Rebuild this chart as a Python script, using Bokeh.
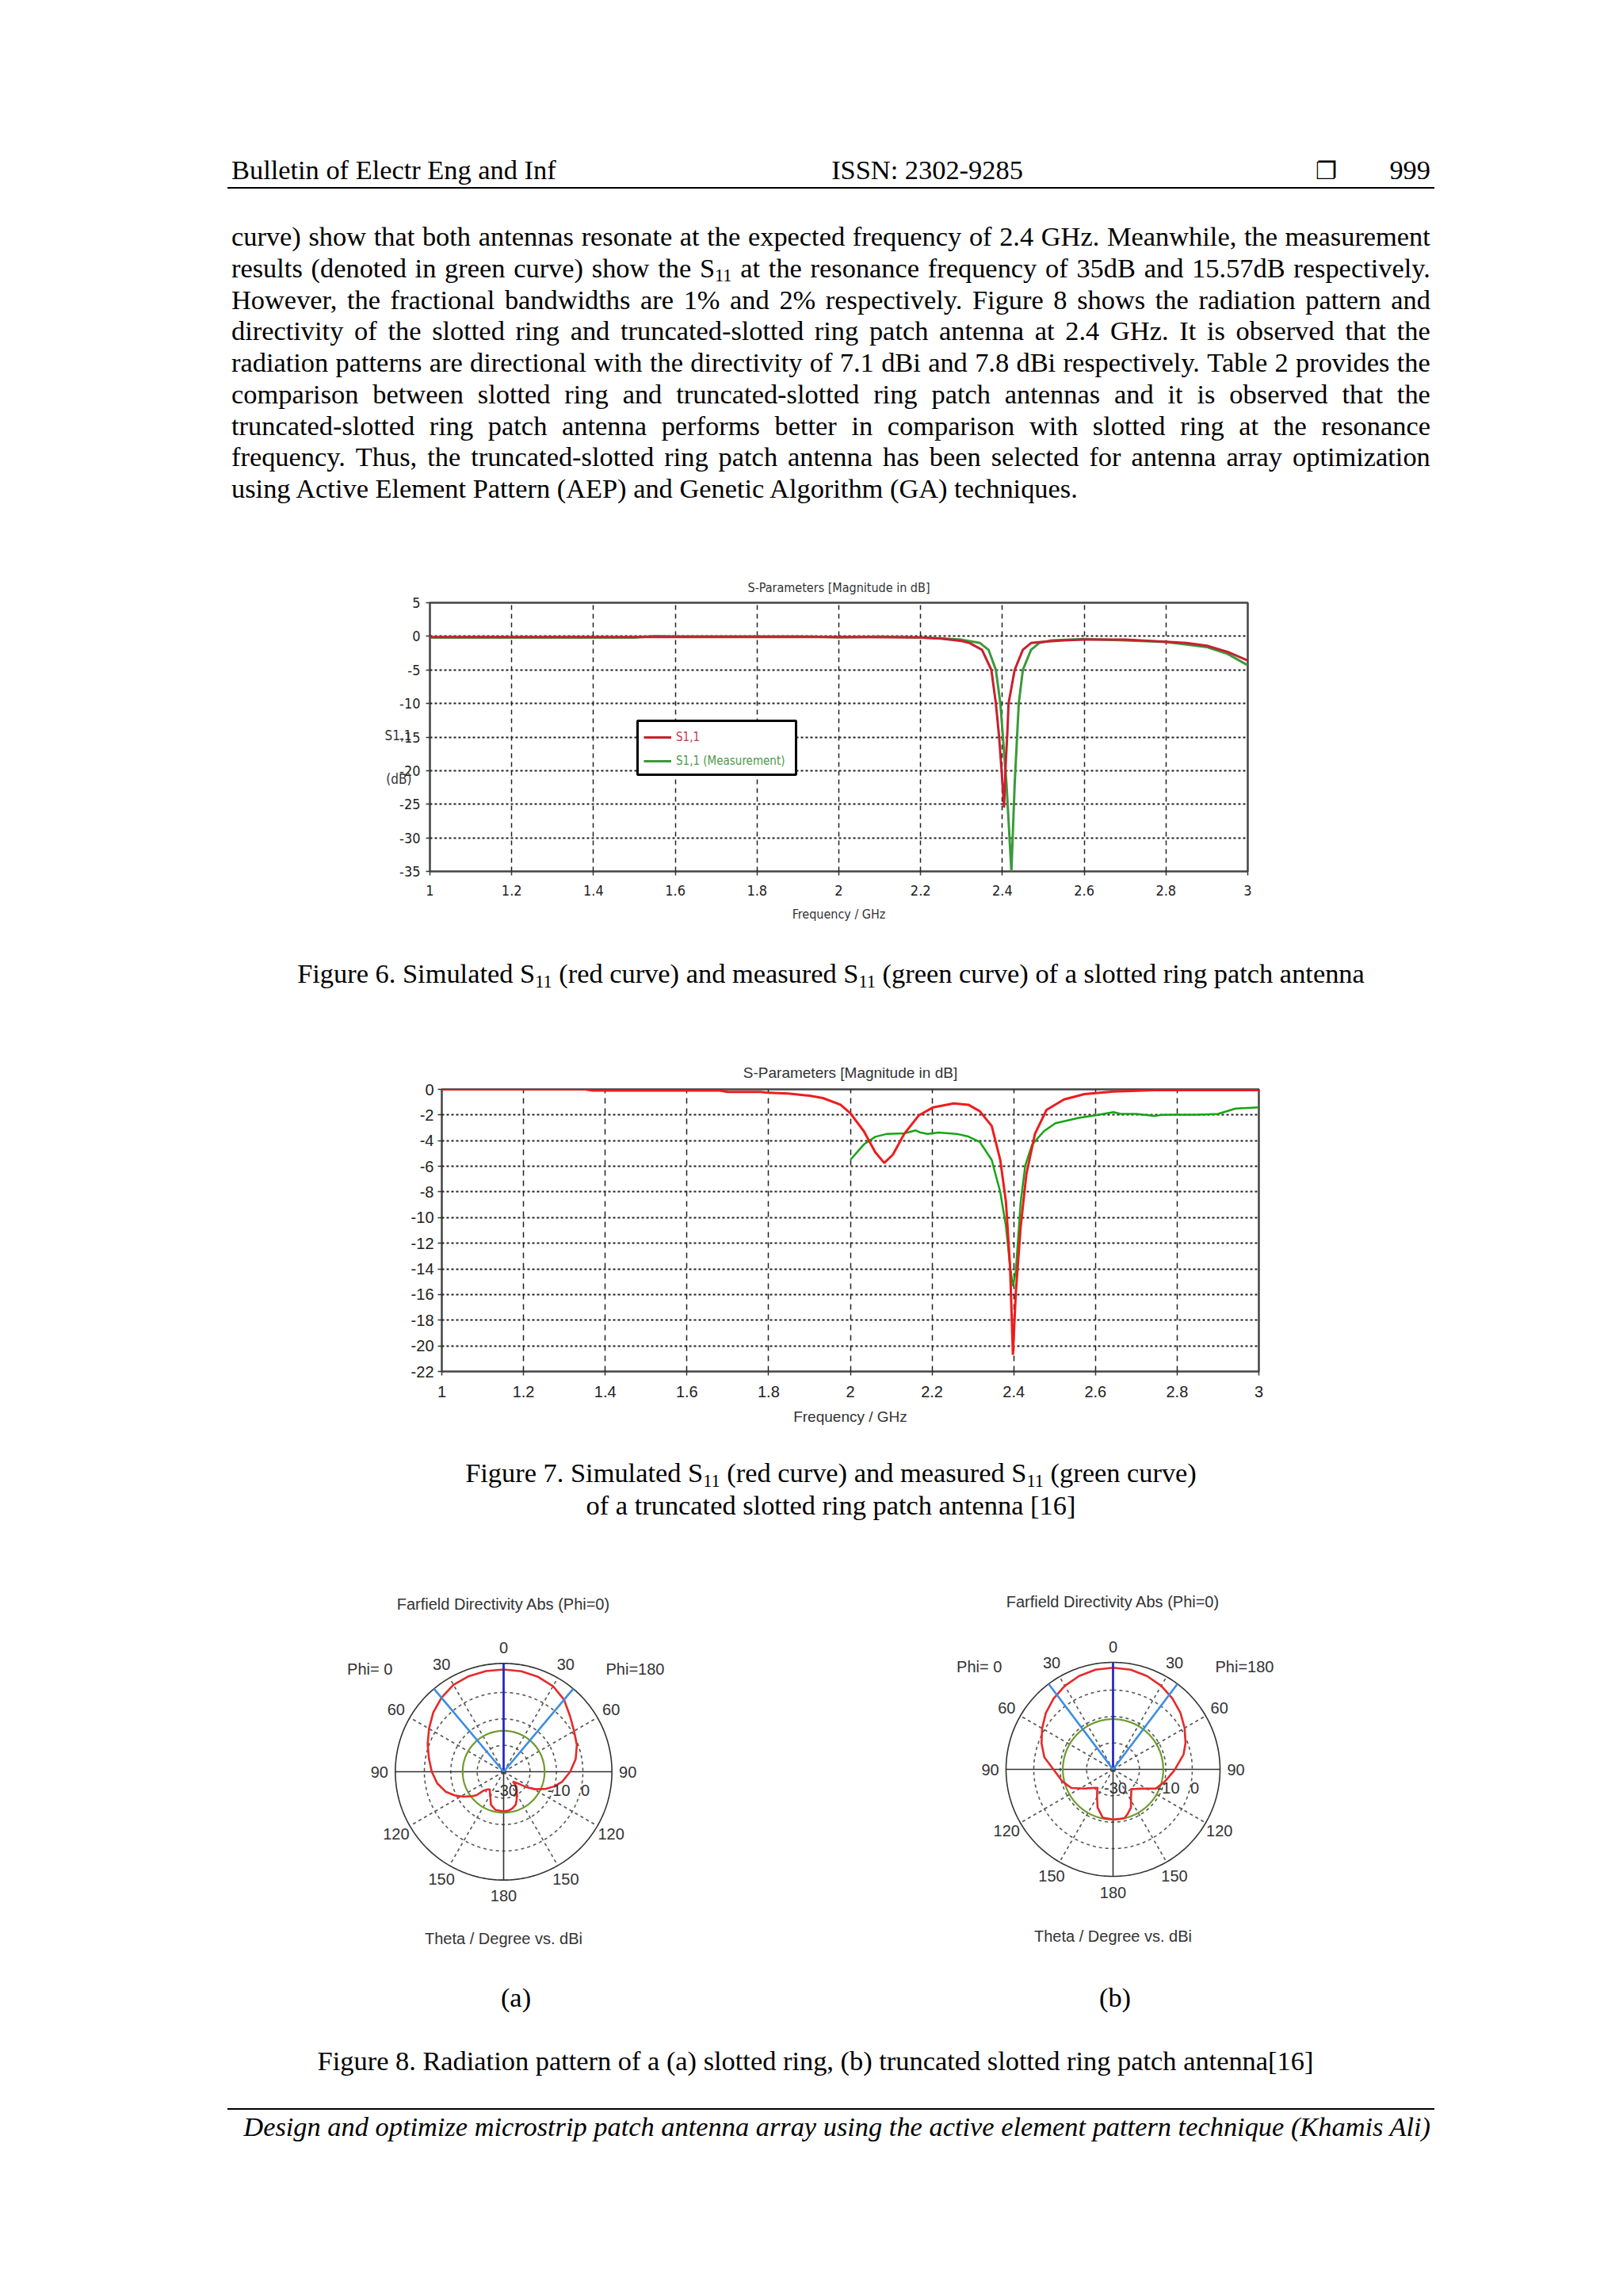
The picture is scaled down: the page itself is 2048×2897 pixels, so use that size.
import numpy as np
from bokeh.plotting import figure
from bokeh.models import (Range1d, FixedTicker, Legend, LegendItem, Title, LinearAxis,
                          BoxAnnotation, Div, Spacer)
from bokeh.layouts import column, row
from bokeh.core.properties import value
from bokeh.embed import file_html
from bokeh.resources import INLINE

# ------------------------------------------------------------------ data
# Figure 6 : slotted ring patch antenna
fig6_x_ticks = [1.0, 1.2, 1.4, 1.6, 1.8, 2.0, 2.2, 2.4, 2.6, 2.8, 3.0]
fig6_x_labels = ["1", "1.2", "1.4", "1.6", "1.8", "2", "2.2", "2.4", "2.6", "2.8", "3"]
fig6_y_ticks = [5, 0, -5, -10, -15, -20, -25, -30, -35]
fig6_y_labels = ["5", "0", "-5", "-10", "-15", "-20", "-25", "-30", "-35"]
fig6_sim_f = [1.0, 1.5, 2.0, 2.2, 2.25, 2.3, 2.32, 2.35, 2.373, 2.384, 2.392, 2.398, 2.404,
              2.408, 2.412, 2.415, 2.43, 2.45, 2.47, 2.5, 2.55, 2.6, 2.7, 2.8, 2.85, 2.9, 2.95, 3.0]
fig6_sim_d = [-0.1, -0.1, -0.1, -0.15, -0.35, -0.7, -1.0, -2.0, -5.0, -10.0, -15.0, -20.0, -25.5,
              -19.0, -14.5, -10.0, -5.0, -2.0, -1.0, -0.8, -0.6, -0.5, -0.5, -0.8, -1.0, -1.4, -2.3, -3.6]
fig6_meas_f = [1.0, 1.5, 1.55, 1.6, 1.9, 2.0, 2.1, 2.2, 2.25, 2.3, 2.345, 2.366, 2.384, 2.395,
               2.41, 2.422, 2.43, 2.44, 2.45, 2.47, 2.49, 2.52, 2.6, 2.7, 2.8, 2.9, 2.95, 3.0]
fig6_meas_d = [-0.2, -0.2, 0.05, 0.0, 0.0, -0.15, -0.05, -0.2, -0.3, -0.5, -1.0, -2.0, -5.0, -10.0,
               -22.0, -35.0, -22.0, -10.0, -5.0, -2.0, -1.0, -0.6, -0.4, -0.6, -0.85, -1.6, -2.6, -4.3]
fig6_ylabel_pos = [-14.8, -21.3]
fig6_ylabel_text = ["S1,1", "(dB)"]

# Figure 7 : truncated slotted ring patch antenna
fig7_x_ticks = [1.0, 1.2, 1.4, 1.6, 1.8, 2.0, 2.2, 2.4, 2.6, 2.8, 3.0]
fig7_x_labels = ["1", "1.2", "1.4", "1.6", "1.8", "2", "2.2", "2.4", "2.6", "2.8", "3"]
fig7_y_ticks = [0, -2, -4, -6, -8, -10, -12, -14, -16, -18, -20, -22]
fig7_y_labels = ["0", "-2", "-4", "-6", "-8", "-10", "-12", "-14", "-16", "-18", "-20", "-22"]
fig7_sim_f = [1.0, 1.35, 1.37, 1.68, 1.7, 1.78, 1.8, 1.848, 1.9, 1.933, 1.976, 2.0, 2.033, 2.061,
              2.083, 2.104, 2.132, 2.168, 2.203, 2.253, 2.289, 2.317, 2.346, 2.367, 2.381, 2.391,
              2.398, 2.405, 2.417, 2.431, 2.452, 2.48, 2.523, 2.573, 2.644, 2.744, 3.0]
fig7_sim_d = [0.0, 0.0, -0.1, -0.1, -0.2, -0.2, -0.27, -0.33, -0.5, -0.68, -1.2, -1.86, -3.26, -4.9,
              -5.74, -5.1, -3.47, -2.02, -1.4, -1.1, -1.2, -1.71, -2.85, -5.5, -8.8, -13.8,
              -20.7, -15.9, -10.7, -6.6, -3.47, -1.61, -0.79, -0.37, -0.17, -0.06, -0.06]
fig7_meas_f = [2.0, 2.033, 2.061, 2.09, 2.132, 2.16, 2.17, 2.189, 2.216, 2.26, 2.289, 2.317, 2.346,
               2.367, 2.381, 2.391, 2.398, 2.405, 2.417, 2.428, 2.445, 2.474, 2.502, 2.559, 2.6,
               2.644, 2.66, 2.7, 2.744, 2.76, 2.787, 2.843, 2.9, 2.943, 3.0]
fig7_meas_d = [-5.5, -4.3, -3.7, -3.47, -3.43, -3.2, -3.35, -3.47, -3.37, -3.47, -3.68, -4.1, -5.5,
               -8.0, -10.7, -13.8, -15.35, -14.2, -8.8, -5.95, -4.3, -3.26, -2.64, -2.23, -2.02,
               -1.78, -1.9, -1.92, -2.07, -2.0, -1.98, -1.98, -1.92, -1.5, -1.4]

# Figure 8 : farfield directivity (dBi) vs theta (deg)
polar_angle_ticks = [0, 30, 60, 90, 120, 150, 180]
polar_rings = [-20, -10, 0]
polar_ring_labels = ["-30", "-10", "0"]
polar_ring_label_levels = [-30, -10, 0]
polar_min = -30

a_theta_phi0 = [0, 10, 20, 30, 40, 50, 60, 70, 80, 90, 100, 109, 116, 122, 128, 131, 133, 138,
                142, 147, 152, 159, 168, 180]
a_dbi_phi0 = [8.7, 8.7, 8.5, 8.0, 6.6, 4.8, 2.6, 0.6, -1.3, -2.8, -4.5, -6.8, -9.5, -12.2, -15.0,
              -16.5, -19.4, -21.0, -21.5, -20.5, -19.3, -16.6, -15.2, -15.0]
a_theta_phi180 = [0, 10, 20, 30, 40, 50, 60, 70, 80, 90, 100, 106, 112, 119, 124, 128, 132, 136.6,
                  139, 144, 149.5, 155, 160, 166, 172, 180]
a_dbi_phi180 = [8.7, 8.6, 8.2, 7.4, 5.6, 2.8, 0.8, -0.5, -2.3, -4.8, -7.6, -10.0, -12.7, -16.3,
                -19.5, -22.4, -23.8, -24.9, -22.7, -21.5, -20.1, -18.3, -16.7, -15.8, -15.2, -15.0]
a_ref_level = -14.5
a_beam_dir = 0
a_beam_half = 40
a_outer = 41.0

b_theta_phi0 = [0, 10, 20, 30, 40, 50, 60, 70, 80, 91, 103, 114, 124, 130.5, 140, 145, 150, 158,
                168, 180]
b_dbi_phi0 = [8.5, 8.3, 7.6, 6.5, 5.0, 3.2, 1.0, -1.2, -3.6, -7.7, -10.2, -12.7, -17.0, -19.1,
              -20.9, -19.5, -17.9, -14.4, -11.3, -11.0]
b_theta_phi180 = [0, 10, 20, 30, 40, 50, 60, 70, 78, 91, 103, 114, 123, 130, 137, 147, 155, 162,
                  167, 180]
b_dbi_phi180 = [8.5, 8.3, 7.6, 6.5, 5.0, 3.3, 1.3, -0.8, -2.7, -6.8, -9.8, -12.2, -16.6, -18.5,
                -19.8, -17.5, -14.0, -12.2, -11.0, -11.0]
b_ref_level = -11.0
b_beam_dir = 0
b_beam_half = 37
b_outer = 40.5

# ------------------------------------------------------------------ text
header_left = "Bulletin of Electr Eng and Inf"
header_mid = "ISSN: 2302-9285"
header_page = "999"
SUB11 = 'S<span style="font-size:0.65em;position:relative;top:0.25em;">11</span>'
para_lines = [
    "curve) show that both antennas resonate at the expected frequency of 2.4 GHz. Meanwhile, the measurement",
    "results (denoted in green curve) show the " + SUB11 + " at the resonance frequency of 35dB and 15.57dB respectively.",
    "However, the fractional bandwidths are 1% and 2% respectively. Figure 8 shows the radiation pattern and",
    "directivity of the slotted ring and truncated-slotted ring patch antenna at 2.4 GHz. It is observed that the",
    "radiation patterns are directional with the directivity of 7.1 dBi and 7.8 dBi respectively. Table 2 provides the",
    "comparison between slotted ring and truncated-slotted ring patch antennas and it is observed that the",
    "truncated-slotted ring patch antenna performs better in comparison with slotted ring at the resonance",
    "frequency. Thus, the truncated-slotted ring patch antenna has been selected for antenna array optimization",
    "using Active Element Pattern (AEP) and Genetic Algorithm (GA) techniques.",
]
cap6 = "Figure 6. Simulated " + SUB11 + " (red curve) and measured " + SUB11 + " (green curve) of a slotted ring patch antenna"
cap7a = "Figure 7. Simulated " + SUB11 + " (red curve) and measured " + SUB11 + " (green curve)"
cap7b = "of a truncated slotted ring patch antenna [16]"
cap8 = "Figure 8. Radiation pattern of a (a) slotted ring, (b) truncated slotted ring patch antenna[16]"
footer = "Design and optimize microstrip patch antenna array using the active element pattern technique (Khamis Ali)"

SERIF = "font-family:'Liberation Serif','Times New Roman',serif;font-size:34.4px;line-height:40px;color:#000;white-space:nowrap;"


def tline(left, top, html, extra=""):
    return f'<div style="position:absolute;left:{left}px;top:{top}px;{SERIF}{extra}">{html}</div>'


def jline(left, top, width, html):
    # split into words but keep the subscript span in one piece
    html = html.replace("<span style", "<span\u00a0style")
    words = html.split(" ")
    spans = "".join(f"<span>{w.replace(chr(160), ' ')}</span>" for w in words)
    return (f'<div style="position:absolute;left:{left}px;top:{top}px;width:{width}px;display:flex;'
            f'justify-content:space-between;{SERIF}">{spans}</div>')


def box(w, h, inner):
    return f'<div style="position:relative;width:{w}px;height:{h}px;margin:0;padding:0;">{inner}</div>'


def make_div(html, h):
    return Div(text=box(2032, h, html), width=2032, height=h, margin=0)


# ------------------------------------------------------------------ page part A (header + paragraph)
# (layout origin is page (8, 8))
TXT_L, TXT_W = 284, 1513
partA = []
partA.append(tline(TXT_L, 186, header_left))
partA.append(tline(1162, 186, header_mid, "transform:translateX(-50%);"))
partA.append('<div style="position:absolute;left:1652px;top:190px;font-family:\'DejaVu Sans\';font-size:30px;line-height:36px;color:#000;">&#10064;</div>')
partA.append(f'<div style="position:absolute;left:{TXT_L}px;top:186px;width:{TXT_W}px;text-align:right;{SERIF}">{header_page}</div>')
partA.append('<div style="position:absolute;left:279px;top:228px;width:1523px;height:2px;background:#000;"></div>')
line_centers = [300 + 39.75 * i for i in range(len(para_lines))]
for i, (ln, c) in enumerate(zip(para_lines, line_centers)):
    top = c - 30
    if i < len(para_lines) - 1:
        partA.append(jline(TXT_L, top, TXT_W, ln))
    else:
        partA.append(tline(TXT_L, top, ln))
divA = make_div("".join(partA), 692)

# ------------------------------------------------------------------ S-parameter charts
BORDER_L, BORDER_R = 534, 440


def sparam_fig(top, frame_w, frame_h, height, xt, xl, yt, yl, font, tick_size, text_size,
               vdash, hdash, title_text, xlabel, title_standoff, xlabel_standoff, tick_standoff):
    ttl = Title(text=title_text, align="center", text_font=font, text_font_size=text_size,
                text_font_style="normal", text_color="#333333", standoff=title_standoff)
    p = figure(width=BORDER_L + frame_w + BORDER_R, height=height,
               x_range=Range1d(xt[0], xt[-1]), y_range=Range1d(yt[-1], yt[0]), title=ttl,
               min_border_left=BORDER_L, min_border_right=BORDER_R,
               min_border_top=top, min_border_bottom=height - top - frame_h,
               output_backend="svg", toolbar_location=None)
    p.xaxis.ticker = FixedTicker(ticks=xt)
    p.xaxis.major_label_overrides = dict(zip(xt, xl))
    p.yaxis.ticker = FixedTicker(ticks=yt)
    p.yaxis.major_label_overrides = dict(zip(yt, yl))
    p.xgrid.ticker = FixedTicker(ticks=xt)
    p.ygrid.ticker = FixedTicker(ticks=yt)
    for ax in (p.xaxis[0], p.yaxis[0]):
        ax.axis_line_color = None
        ax.major_tick_in = 0
        ax.major_tick_out = 5
        ax.minor_tick_line_color = None
        ax.major_tick_line_color = "#333333"
        ax.major_tick_line_width = 1.5
        ax.major_label_text_font = font
        ax.major_label_text_font_size = tick_size
        ax.major_label_text_color = "#222222"
    p.xaxis.major_label_standoff = tick_standoff
    p.xaxis.axis_label = xlabel
    p.xaxis.axis_label_text_font = font
    p.xaxis.axis_label_text_font_size = text_size
    p.xaxis.axis_label_text_font_style = "normal"
    p.xaxis.axis_label_text_color = "#333333"
    p.xaxis.axis_label_standoff = xlabel_standoff
    p.xgrid.grid_line_color = "#222222"
    p.xgrid.grid_line_dash = vdash
    p.xgrid.grid_line_width = 1.5
    p.ygrid.grid_line_color = "#222222"
    p.ygrid.grid_line_dash = hdash
    p.ygrid.grid_line_width = 2
    p.outline_line_color = "#444444"
    p.outline_line_width = 2.5
    p.background_fill_color = "white"
    p.border_fill_color = "white"
    return p


# Figure 6 chart: frame x 542..1574, y 760..1099 (page); figure top at page y 700
F1_FONT = "DejaVu Sans Condensed"
p1 = sparam_fig(60, 1032, 339, 500, fig6_x_ticks, fig6_x_labels, fig6_y_ticks, fig6_y_labels,
                F1_FONT, "18px", "16px", "6 5", "3 3", "S-Parameters [Magnitude in dB]",
                "Frequency / GHz", 20, 11, 12)
p1.yaxis.major_label_standoff = 7
ylab_axis = LinearAxis(ticker=FixedTicker(ticks=fig6_ylabel_pos),
                       major_label_overrides=dict(zip(fig6_ylabel_pos, fig6_ylabel_text)),
                       axis_line_color=None, major_tick_line_color=None, minor_tick_line_color=None,
                       major_label_standoff=-24, major_label_text_font=F1_FONT,
                       major_label_text_font_size="17px", major_label_text_color="#333333")
p1.add_layout(ylab_axis, "left")
r_meas1 = p1.line(fig6_meas_f, fig6_meas_d, line_color="#3a9a3a", line_width=3)
r_sim1 = p1.line(fig6_sim_f, fig6_sim_d, line_color="#c8202e", line_width=3)
p1.add_layout(BoxAnnotation(left=262, right=462, top=190, bottom=122, left_units="screen",
                            right_units="screen", top_units="screen", bottom_units="screen",
                            fill_color="white", fill_alpha=1.0, line_color="black",
                            line_alpha=1.0, line_width=3))
for rend, lab, col, y0 in ((r_sim1, "S1,1", "#c0394a", 159), (r_meas1, "S1,1 (Measurement)", "#4a9a4a", 129)):
    lg = Legend(items=[LegendItem(label=lab, renderers=[rend])], location=(270, y0),
                border_line_color=None, background_fill_alpha=0, padding=0, margin=0, spacing=0,
                glyph_width=35, glyph_height=20, label_height=20, label_standoff=6,
                label_text_font=F1_FONT, label_text_font_size="15px", label_text_color=col)
    p1.add_layout(lg)

divC = make_div(f'<div style="position:absolute;left:{TXT_L}px;top:8px;width:{TXT_W}px;text-align:center;{SERIF}">{cap6}</div>', 120)

# Figure 7 chart: frame x 557..1588, y 1374..1730 (page); figure top at page y 1320
F2_FONT = "Liberation Sans"
p2 = sparam_fig(54, 1031, 356, 500, fig7_x_ticks, fig7_x_labels, fig7_y_ticks, fig7_y_labels,
                F2_FONT, "20px", "19px", "7 6", "3 3", "S-Parameters [Magnitude in dB]",
                "Frequency / GHz", 21, 11, 13)
p2.yaxis.major_label_standoff = 5
p2.line(fig7_meas_f, fig7_meas_d, line_color="#17a317", line_width=2.5)
p2.line(fig7_sim_f, fig7_sim_d, line_color="#ee1c1c", line_width=3)
p2_row = row(Spacer(width=15, height=500, margin=0), p2)

divE = make_div(f'<div style="position:absolute;left:{TXT_L}px;top:18px;width:{TXT_W}px;text-align:center;{SERIF}">{cap7a}</div>'
                f'<div style="position:absolute;left:{TXT_L}px;top:59px;width:{TXT_W}px;text-align:center;{SERIF}">{cap7b}</div>', 170)

# ------------------------------------------------------------------ polar charts
S = 10.0 / 3.0  # px per dB
PW, PH = 520, 490
PFONT = "Liberation Sans"


def polar_fig(th0, d0, th180, d180, ref_level, beam_dir, beam_half, outer, cx, cy):
    p = figure(width=PW, height=PH, x_range=Range1d(-cx / S, (PW - cx) / S),
               y_range=Range1d(-(PH - cy) / S, cy / S), x_axis_type=None, y_axis_type=None,
               min_border=0, title=None, output_backend="svg", toolbar_location=None)
    p.outline_line_color = None
    p.background_fill_color = "white"
    p.border_fill_color = "white"
    ang = np.radians(np.linspace(0, 360, 361))
    for lev in polar_rings:
        r = lev - polar_min
        p.line(r * np.sin(ang), r * np.cos(ang), line_color="#555555", line_width=1.6, line_dash="4 4")
    spokes = np.radians([a for a in polar_angle_ticks if a % 90 != 0])
    sx = np.concatenate([outer * np.sin(spokes), -outer * np.sin(spokes)])
    sy = np.concatenate([outer * np.cos(spokes), outer * np.cos(spokes)])
    p.segment(x0=np.zeros_like(sx), y0=np.zeros_like(sy), x1=sx, y1=sy,
              line_color="#555555", line_width=1.6, line_dash="4 4")
    p.line(outer * np.sin(ang), outer * np.cos(ang), line_color="#333333", line_width=1.6)
    p.segment(x0=[0, -outer], y0=[-outer, 0], x1=[0, outer], y1=[outer, 0],
              line_color="#333333", line_width=1.6)
    rr = ref_level - polar_min
    p.line(rr * np.sin(ang), rr * np.cos(ang), line_color="#6f9a2e", line_width=2.2)
    # pattern: phi=0 on the left side, phi=180 on the right side
    t0 = np.radians(th0)
    r0 = np.clip(np.array(d0) - polar_min, 0, None)
    t1 = np.radians(th180)[::-1]
    r1 = np.clip(np.array(d180) - polar_min, 0, None)[::-1]
    xs = np.concatenate([-r0 * np.sin(t0), r1 * np.sin(t1)])
    ys = np.concatenate([r0 * np.cos(t0), r1 * np.cos(t1)])
    p.line(xs, ys, line_color="#e52a2a", line_width=2.6)
    bd = np.radians(beam_dir)
    p.segment(x0=[0], y0=[0], x1=[outer * np.sin(bd)], y1=[outer * np.cos(bd)],
              line_color="#2323c8", line_width=2.6)
    bw = np.radians([beam_dir - beam_half, beam_dir + beam_half])
    p.segment(x0=[0, 0], y0=[0, 0], x1=outer * np.sin(bw), y1=outer * np.cos(bw),
              line_color="#3c8de0", line_width=2.6)
    # angle labels
    rl = outer + 6
    la = np.radians(polar_angle_ticks)
    lx = np.concatenate([-rl * np.sin(la[1:-1]), rl * np.sin(la)])
    ly = np.concatenate([rl * np.cos(la[1:-1]), rl * np.cos(la)])
    lt = [str(a) for a in polar_angle_ticks[1:-1]] + [str(a) for a in polar_angle_ticks]
    tkw = dict(text_align="center", text_baseline="middle", text_font=value(PFONT),
               text_font_size="20px", text_color="#333333")
    p.text(x=lx, y=ly, text=lt, **tkw)
    # ring labels below the horizontal axis
    rx = [lev - polar_min + 3 / S for lev in polar_ring_label_levels]
    p.text(x=rx, y=[-23 / S] * len(rx), text=polar_ring_labels, **tkw)
    # titles
    p.text(x=[0], y=[212 / S], text=["Farfield Directivity Abs (Phi=0)"], **tkw)
    p.text(x=[-166 / S, 166 / S], y=[130 / S, 130 / S], text=["Phi=  0", "Phi=180"], **tkw)
    p.text(x=[0], y=[-210 / S], text=["Theta / Degree vs. dBi"], **tkw)
    return p


pa = polar_fig(a_theta_phi0, a_dbi_phi0, a_theta_phi180, a_dbi_phi180, a_ref_level,
               a_beam_dir, a_beam_half, a_outer, 215, 245)
pb = polar_fig(b_theta_phi0, b_dbi_phi0, b_theta_phi180, b_dbi_phi180, b_ref_level,
               b_beam_dir, b_beam_half, b_outer, 214, 242)
polar_row = row(Spacer(width=412, height=PH, margin=0), pa, Spacer(width=250, height=PH, margin=0), pb)

# ------------------------------------------------------------------ bottom part
partG = []
partG.append(tline(643, 20, "(a)", "transform:translateX(-50%);"))
partG.append(tline(1399, 20, "(b)", "transform:translateX(-50%);"))
partG.append(tline(1021, 99.5, cap8, "transform:translateX(-50%);"))
partG.append('<div style="position:absolute;left:279px;top:180px;width:1523px;height:1.5px;background:#000;"></div>')
partG.append(f'<div style="position:absolute;left:{TXT_L}px;top:183px;width:{TXT_W}px;text-align:right;{SERIF}font-style:italic;">{footer}</div>')
divG = make_div("".join(partG), 400)

body = column(Spacer(width=10, height=8, margin=0), divA, p1, divC, p2_row, divE, polar_row, divG)
layout = row(Spacer(width=8, height=10, margin=0), body)

open("out.html", "w").write(file_html(layout, INLINE))
